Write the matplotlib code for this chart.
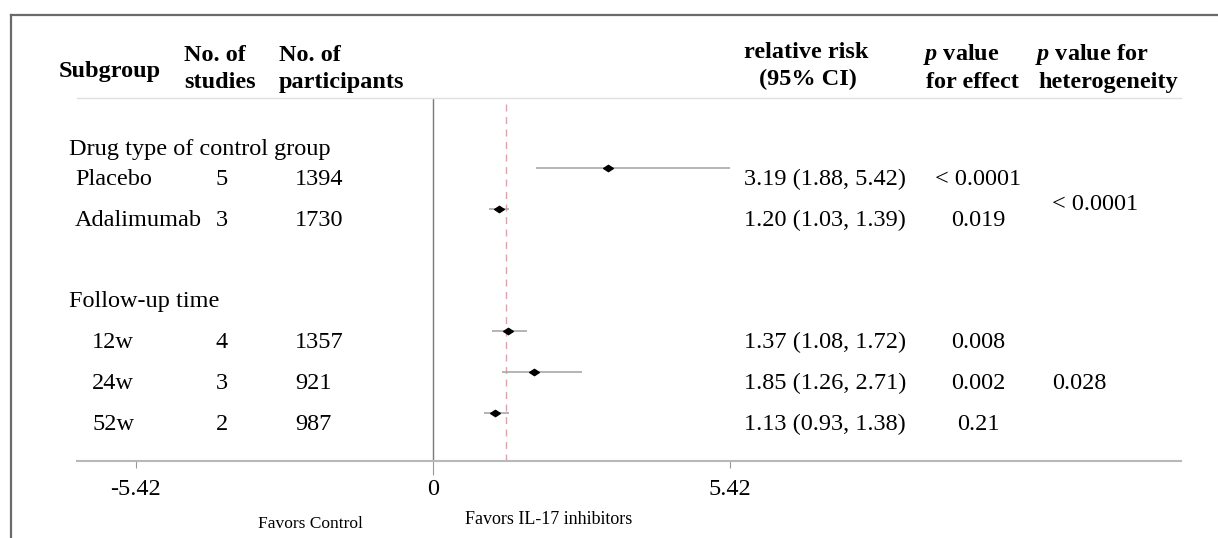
import matplotlib
matplotlib.use("Agg")
import matplotlib.pyplot as plt
import matplotlib.transforms as mtransforms
from matplotlib.lines import Line2D
from matplotlib.path import Path

plt.rcParams['font.family'] = ['Liberation Serif', 'DejaVu Serif']
plt.rcParams['mathtext.fontset'] = 'custom'
plt.rcParams['mathtext.it'] = 'Liberation Serif:italic:bold'
plt.rcParams['mathtext.rm'] = 'Liberation Serif:bold'

# Données
groups = ["Drug type of control group", "Follow-up time"]
subgroups = ["Placebo", "Adalimumab", "12w", "24w", "52w"]
n_studies = [5, 3, 4, 3, 2]
n_participants = [1394, 1730, 1357, 921, 987]
rr = [3.19, 1.20, 1.37, 1.85, 1.13]
ci_low = [1.88, 1.03, 1.08, 1.26, 0.93]
ci_high = [5.42, 1.39, 1.72, 2.71, 1.38]
p_effect = ["< 0.0001", "0.019", "0.008", "0.002", "0.21"]
p_het = ["< 0.0001", "0.028"]
overall_rr = 1.34
axis_ticks = [-5.42, 0, 5.42]
axis_labels = ["-5.42", "0", "5.42"]

# Mise en page (pixels)
W, H = 1218, 538
row_slot = [0, 1, 4, 5, 6]
group_slot = [-0.32, 3.41]
het_slot = [1.03, 5.42]
sub_indent = [75, 75, 92, 92, 92]
txt_off = 0.417
fs = 17.5

fig = plt.figure(figsize=(W / 100, H / 100), dpi=100)
ax = fig.add_axes([77 / W, (H - 461) / H, (1181 - 77) / W, (461 - 98) / H])

# Forme du losange
diamond = Path([(-1, 0), (0, 0.65), (1, 0), (0, -0.65), (-1, 0)],
               [Path.MOVETO, Path.LINETO, Path.LINETO, Path.LINETO, Path.CLOSEPOLY])

for i in range(len(rr)):
    ax.plot([ci_low[i], ci_high[i]], [row_slot[i], row_slot[i]],
            color='#a8a8a8', lw=1.2, solid_capstyle='butt', zorder=2)
    ax.plot(rr[i], row_slot[i], marker=diamond, markersize=7,
            color='black', zorder=3)

ax.axvline(0, color='#7a7a7a', lw=1, zorder=1)
ax.axvline(overall_rr, color='#dca3ab', lw=1, ls=(0, (5, 4)), zorder=1)

px_per_unit = 54.8
ax.set_xlim((77 - 433) / px_per_unit, (1181 - 433) / px_per_unit)
ax.set_ylim((461 - 168) / 40.8, (98 - 168) / 40.8)
ax.set_yticks([])
ax.set_xticks(axis_ticks, labels=axis_labels, fontsize=fs)
ax.tick_params(axis='x', length=5, width=0.8, color='#999999', pad=8)
t0 = ax.xaxis.get_major_ticks()[1]
t0.tick1line.set_markersize(10)
t0.tick1line.set_color('#333333')

for side in ['left', 'right']:
    ax.spines[side].set_visible(False)
ax.spines['top'].set_color('#e0e0e0')
ax.spines['top'].set_linewidth(1)
ax.spines['bottom'].set_color('#b8b8b8')
ax.spines['bottom'].set_linewidth(1.5)

# Textes du tableau
tr = mtransforms.blended_transform_factory(fig.transFigure, ax.transData)

def col(x):
    return x / W

for g, s in zip(groups, group_slot):
    ax.text(col(69), s, g, transform=tr, fontsize=fs, va='baseline', clip_on=False)

for i in range(len(rr)):
    y = row_slot[i] + txt_off
    ax.text(col(sub_indent[i]), y, subgroups[i], transform=tr, fontsize=fs,
            va='baseline', clip_on=False)
    ax.text(col(222), y, str(n_studies[i]), transform=tr, fontsize=fs,
            ha='center', va='baseline', clip_on=False)
    ax.text(col(295), y, str(n_participants[i]), transform=tr, fontsize=fs,
            va='baseline', clip_on=False)
    ax.text(col(744), y, f"{rr[i]:.2f} ({ci_low[i]:.2f}, {ci_high[i]:.2f})",
            transform=tr, fontsize=fs, va='baseline', clip_on=False)
    ax.text(col(978), y, p_effect[i], transform=tr, fontsize=fs,
            ha='center', va='baseline', clip_on=False)

for p, s in zip(p_het, het_slot):
    ax.text(col(1052), s, p, transform=tr, fontsize=fs, va='baseline', clip_on=False)

# En-têtes
def head(x, y, s, ha='left'):
    fig.text(x / W, 1 - y / H, s, fontsize=fs, fontweight='bold', ha=ha, va='baseline')

head(59, 77, "Subgroup")
head(184, 61, "No. of")
head(184, 88, "studies")
head(279, 61, "No. of")
head(279, 88, "participants")
head(806, 58, "relative risk", ha='center')
head(808, 85, "(95% CI)", ha='center')
head(923, 60, r"$\it{p}$ value")
head(926, 88, "for effect")
head(1035, 60, r"$\it{p}$ value for")
head(1038, 88, "heterogeneity")

# Légendes sous l'axe
fig.text(310 / W, 1 - 528 / H, "Favors Control", fontsize=12.5, ha='center', va='baseline')
fig.text(549 / W, 1 - 524 / H, "Favors IL-17 inhibitors", fontsize=13, ha='center', va='baseline')

# Cadre
fig.add_artist(Line2D([11 / W, 1], [1 - 15 / H, 1 - 15 / H], transform=fig.transFigure,
                      color='#6a6a6a', lw=1.6))
fig.add_artist(Line2D([11 / W, 11 / W], [0, 1 - 15 / H], transform=fig.transFigure,
                      color='#6a6a6a', lw=1.6))

fig.savefig("out.png", dpi=100)
